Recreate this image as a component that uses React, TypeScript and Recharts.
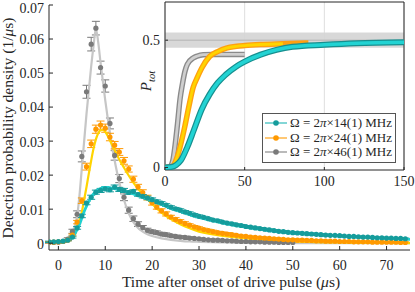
import { ComposedChart, Line, Scatter, ErrorBar, XAxis, YAxis, CartesianGrid, ReferenceArea, ReferenceLine, Legend } from "recharts"

const FONT = "'Liberation Serif', 'DejaVu Serif', serif"
const INK = "#262626"

// main plot: detection probability density vs time (us)
const dataT = [-2, -1, 0, 1, 2, 3, 4, 5, 6, 7, 8, 9, 10, 11, 12, 13, 14, 15, 16, 17, 18, 19, 20, 21, 22, 23, 24, 25, 26, 27, 28, 29, 30, 31, 32, 33, 34, 35, 36, 37, 38, 39, 40, 41, 42, 43, 44, 45, 46, 47, 48, 49, 50, 51, 52, 53, 54, 55, 56, 57, 58, 59, 60, 61, 62, 63, 64, 65, 66, 67, 68, 69, 70, 71, 72, 73, 74]

const grayData = [
  0.0002, 0.0002, 0.0003, 0.0005, 0.0012, 0.0035, 0.0085, 0.0255, 0.0445, 0.0585,
  0.0632, 0.0516, 0.0462, 0.0352, 0.0258, 0.019, 0.0135, 0.0097, 0.0072, 0.0056,
  0.0046, 0.0038, 0.0034, 0.0031, 0.0027, 0.0025, 0.0022, 0.002, 0.0018, 0.0017,
  0.0015, 0.0014, 0.0013, 0.0011, 0.001, 0.0009, 0.0009, 0.0008, 0.0007, 0.0007,
  0.0006, 0.0005, 0.0005, 0.0004, 0.0004, 0.0004, 0.0003, 0.0003, 0.0003, 0.0002,
  0.0002, 0.0002, 0.0002,
]
const grayErr = [
  0.0002, 0.0002, 0.0002, 0.0003, 0.0004, 0.0006, 0.001, 0.0016, 0.0019, 0.002,
  0.002, 0.0019, 0.0018, 0.0016, 0.0014, 0.0012, 0.001, 0.0009, 0.0008, 0.0007,
  0.0006, 0.0006, 0.0005, 0.0005, 0.0005, 0.0005, 0.0004, 0.0004, 0.0004, 0.0004,
  0.0004, 0.0003, 0.0003, 0.0003, 0.0003, 0.0003, 0.0003, 0.0003, 0.0003, 0.0003,
  0.0002, 0.0002, 0.0002, 0.0002, 0.0002, 0.0002, 0.0002, 0.0002, 0.0002, 0.0002,
  0.0002, 0.0002, 0.0002,
]

const orangeData = [
  0.0003, 0.0003, 0.0004, 0.0005, 0.0009, 0.0024, 0.0062, 0.0125, 0.0225, 0.0292,
  0.0335, 0.0347, 0.0338, 0.0312, 0.0288, 0.0268, 0.0242, 0.0218, 0.0188, 0.0165,
  0.0149, 0.0134, 0.0119, 0.0106, 0.0095, 0.0086, 0.0077, 0.007, 0.0064, 0.0058,
  0.0053, 0.0048, 0.0044, 0.004, 0.0037, 0.0034, 0.0031, 0.0029, 0.0027, 0.0025,
  0.0023, 0.0021, 0.002, 0.0018, 0.0017, 0.0016, 0.0015, 0.0014, 0.0013, 0.0012,
  0.0011, 0.001, 0.001, 0.0009, 0.0009, 0.0008, 0.0008, 0.0007, 0.0007, 0.0006,
  0.0006, 0.0006, 0.0005, 0.0005, 0.0005, 0.0004, 0.0004, 0.0004, 0.0004, 0.0003,
  0.0003, 0.0003, 0.0003, 0.0003, 0.0003, 0.0002, 0.0002,
]
const orangeErr = [
  0.0002, 0.0002, 0.0002, 0.0002, 0.0002, 0.0003, 0.0005, 0.0008, 0.001, 0.0011,
  0.0012, 0.0012, 0.0012, 0.0011, 0.0011, 0.001, 0.001, 0.0009, 0.0009, 0.0008,
  0.0008, 0.0007, 0.0007, 0.0006, 0.0006, 0.0006, 0.0005, 0.0005, 0.0005, 0.0005,
  0.0004, 0.0004, 0.0004, 0.0004, 0.0004, 0.0004, 0.0004, 0.0004, 0.0004, 0.0004,
  0.0003, 0.0003, 0.0003, 0.0003, 0.0003, 0.0003, 0.0003, 0.0003, 0.0003, 0.0003,
  0.0003, 0.0003, 0.0003, 0.0003, 0.0003, 0.0003, 0.0003, 0.0003, 0.0003, 0.0003,
  0.0002, 0.0002, 0.0002, 0.0002, 0.0002, 0.0002, 0.0002, 0.0002, 0.0002, 0.0002,
  0.0002, 0.0002, 0.0002, 0.0002, 0.0002, 0.0002, 0.0002,
]

const cyanData = [
  0.0004, 0.0004, 0.0005, 0.0006, 0.0009, 0.0018, 0.0045, 0.008, 0.0118, 0.0135,
  0.015, 0.0155, 0.016, 0.0157, 0.0165, 0.0158, 0.0155, 0.0149, 0.0152, 0.0143,
  0.0138, 0.0133, 0.0128, 0.0122, 0.0118, 0.0112, 0.0106, 0.0101, 0.0097, 0.0092,
  0.0088, 0.0083, 0.0079, 0.0076, 0.0072, 0.0068, 0.0066, 0.0062, 0.0059, 0.0057,
  0.0054, 0.0052, 0.0049, 0.0047, 0.0045, 0.0043, 0.0041, 0.0039, 0.0037, 0.0035,
  0.0034, 0.0032, 0.0031, 0.003, 0.0029, 0.0028, 0.0027, 0.0026, 0.0025, 0.0024,
  0.0023, 0.0023, 0.0022, 0.0021, 0.002, 0.002, 0.0019, 0.0018, 0.0018, 0.0017,
  0.0016, 0.0016, 0.0015, 0.0015, 0.0014, 0.0014, 0.0013,
]
const cyanErr = [
  0.0002, 0.0002, 0.0002, 0.0002, 0.0002, 0.0003, 0.0004, 0.0005, 0.0005, 0.0006,
  0.0006, 0.0006, 0.0006, 0.0006, 0.0006, 0.0006, 0.0006, 0.0005, 0.0005, 0.0005,
  0.0005, 0.0005, 0.0005, 0.0005, 0.0004, 0.0004, 0.0004, 0.0004, 0.0004, 0.0004,
  0.0004, 0.0004, 0.0004, 0.0003, 0.0003, 0.0003, 0.0003, 0.0003, 0.0003, 0.0003,
  0.0003, 0.0003, 0.0003, 0.0003, 0.0003, 0.0003, 0.0003, 0.0003, 0.0003, 0.0003,
  0.0003, 0.0003, 0.0003, 0.0003, 0.0003, 0.0003, 0.0003, 0.0003, 0.0003, 0.0003,
  0.0002, 0.0002, 0.0002, 0.0002, 0.0002, 0.0002, 0.0002, 0.0002, 0.0002, 0.0002,
  0.0002, 0.0002, 0.0002, 0.0002, 0.0002, 0.0002, 0.0002,
]

// fitted curves
const fitT = [0, 1, 2, 3, 3.5, 4, 4.5, 5, 5.5, 6, 6.5, 7, 7.5, 8, 8.5, 9, 9.5, 10, 10.5, 11, 11.5, 12, 13, 14, 15, 16, 17, 18, 19, 20, 22, 24, 26, 28, 30, 33, 36, 40, 45, 50, 55, 60, 65, 70, 75]
const grayFit = [
  0.0003, 0.0006, 0.0012, 0.003,
  0.005, 0.008, 0.014, 0.022, 0.03, 0.038, 0.045, 0.052, 0.058, 0.063, 0.059, 0.053, 0.0475, 0.042, 0.037, 0.0325, 0.028, 0.0243,
  0.0178, 0.0127, 0.0088, 0.0062, 0.0045, 0.0034, 0.0026, 0.0021,
  0.0014, 0.001, 0.0007, 0.0005, 0.0004,
  0.0003, 0.0002, 0.0001,
  0.0001, 0, 0, 0, 0, 0, 0,
]
const yellowFit = [
  0.0003, 0.0006, 0.001, 0.0022,
  0.0035, 0.005, 0.0068, 0.0092, 0.0128, 0.0165, 0.0205, 0.0243, 0.0278, 0.0305, 0.0323, 0.0332, 0.0333, 0.0327, 0.0316, 0.0302, 0.0288, 0.0274,
  0.0246, 0.0222, 0.0199, 0.0178, 0.016, 0.0144, 0.0129, 0.0115,
  0.009, 0.0071, 0.0056, 0.0044, 0.0034,
  0.0026, 0.002, 0.0014,
  0.0009, 0.0005, 0.0003, 0.0002, 0.0001, 0.0001, 0,
]
const cyanFit = [
  0.0003, 0.0006, 0.001, 0.0018,
  0.0028, 0.004, 0.0055, 0.0074, 0.0093, 0.0109, 0.0123, 0.0135, 0.0145, 0.0152, 0.0157, 0.0161, 0.0163, 0.0164, 0.0164, 0.0163, 0.0162, 0.016,
  0.0157, 0.0153, 0.0149, 0.0145, 0.014, 0.0135, 0.013, 0.0125,
  0.0114, 0.0103, 0.0093, 0.0084, 0.0076,
  0.0066, 0.0057, 0.0047,
  0.0037, 0.003, 0.0025, 0.0021, 0.0017, 0.0014, 0.0011,
]

const xTicks = [0, 10, 20, 30, 40, 50, 60, 70]
const yTicks = [0, 0.01, 0.02, 0.03, 0.04, 0.05, 0.06, 0.07]

// inset: total detection probability P_tot vs time
const cyanTotT = [0, 4, 7, 10, 14, 18, 23, 28, 33, 38, 45, 50, 60, 70, 80, 100, 120, 150]
const cyanTot = [0, 0.002, 0.01, 0.028, 0.08, 0.145, 0.228, 0.287, 0.332, 0.364, 0.398, 0.416, 0.443, 0.462, 0.474, 0.482, 0.488, 0.492]
const orangeTotT = [0, 3, 5, 7, 9, 12.5, 15, 17.7, 20, 23, 28, 33, 38.5, 45, 50, 60, 74, 90]
const orangeTot = [0, 0.001, 0.006, 0.03, 0.07, 0.163, 0.24, 0.315, 0.35, 0.39, 0.436, 0.455, 0.469, 0.476, 0.479, 0.483, 0.486, 0.489]
const grayTotT = [0, 3, 5, 6.3, 8, 9.4, 11, 12.5, 14, 17.7, 20, 24, 30, 40, 50]
const grayTot = [0, 0.003, 0.03, 0.085, 0.18, 0.267, 0.33, 0.377, 0.405, 0.43, 0.437, 0.443, 0.444, 0.444, 0.444]

const insetXTicks = [0, 50, 100, 150]
const insetYTicks = [0, 0.5]

const legendFreq = ["14", "24", "46"]
const legendLine = ["#2fbaba", "#ffa31a", "#8c8c8c"]
const legendDot = ["#159c9c", "#ff9900", "#7a7a7a"]

const rows = (ts: number[], vs: number[], es?: number[]) =>
  vs.map((v, i) => ({ t: ts[i], v, e: es ? es[i] : 0 }))

const grayPts = rows(dataT, grayData, grayErr)
const orangePts = rows(dataT, orangeData, orangeErr)
const cyanPts = rows(dataT, cyanData, cyanErr)

// layout constants (pixels)
const AX_X = 49
const AX_Y = 250
const IN_LEFT = 165
const IN_BOTTOM = 170

const dot = (color: string) => (p: any) => <circle cx={p.cx} cy={p.cy} r={2.6} fill={color} />

const MainXTick = (p: any) => (
  <g>
    <line x1={p.x} x2={p.x} y1={AX_Y} y2={AX_Y - 4} stroke={INK} />
    <text x={p.x} y={270} textAnchor="middle" fontFamily={FONT} fontSize={14} fill={INK}>{p.payload.value}</text>
  </g>
)

// top label sits at the page edge, nudge it down so it is not clipped
const MainYTick = (p: any) => (
  <g>
    <line x1={AX_X} x2={AX_X + 4} y1={p.y} y2={p.y} stroke={INK} />
    <text x={44} y={p.y} dy={p.y < 12 ? 7.5 : 5.4} textAnchor="end" fontFamily={FONT} fontSize={14} fill={INK}>
      {p.payload.value === 0 ? "0" : p.payload.value.toFixed(2)}
    </text>
  </g>
)

const XTitle = () => (
  <text x={231} y={287} textAnchor="middle" fontFamily={FONT} fontSize={15.5} fill={INK}>
    Time after onset of drive pulse (<tspan fontStyle="italic">μ</tspan>s)
  </text>
)

const YTitle = () => (
  <text x={13} y={128} transform="rotate(-90 13 128)" textAnchor="middle" fontFamily={FONT} fontSize={15.5} fill={INK}>
    Detection probability density (1/<tspan fontStyle="italic">μ</tspan>s)
  </text>
)

const InsetXTick = (p: any) => (
  <g>
    <line x1={p.x} x2={p.x} y1={IN_BOTTOM} y2={IN_BOTTOM - 3} stroke={INK} />
    <text x={p.x} y={186} textAnchor="middle" fontFamily={FONT} fontSize={14} fill={INK}>{p.payload.value}</text>
  </g>
)

const InsetYTick = (p: any) => (
  <g>
    <line x1={IN_LEFT} x2={IN_LEFT + 3} y1={p.y} y2={p.y} stroke={INK} />
    <text x={160} y={p.y} dy={5} textAnchor="end" fontFamily={FONT} fontSize={14} fill={INK}>{p.payload.value}</text>
  </g>
)

const PTitle = () => (
  <text x={151} y={81} transform="rotate(-90 151 81)" textAnchor="middle" fontFamily={FONT} fontSize={15} fill={INK}>
    <tspan fontStyle="italic">P</tspan>
    <tspan fontStyle="italic" fontSize={10.5} dy={4}>tot</tspan>
  </text>
)

const renderLegend = () => (
  <div style={{ border: "1px solid #555", background: "#fff", padding: "2px 3px 2px 1px", fontFamily: FONT, fontSize: 13, lineHeight: "14.5px", color: INK }}>
    {legendFreq.map((f, i) => (
      <div key={f} style={{ display: "flex", alignItems: "center", whiteSpace: "nowrap" }}>
        <svg width={24} height={12} style={{ display: "block" }}>
          <line x1={1} x2={23} y1={6} y2={6} stroke={legendLine[i]} strokeWidth={1.2} />
          <circle cx={12} cy={6} r={2.8} fill={legendDot[i]} />
        </svg>
        <span style={{ marginLeft: 2 }}>Ω = 2<i>π</i>×{f}(1) MHz</span>
      </div>
    ))}
  </div>
)

export default function App() {
  return (
    <div style={{ position: "absolute", left: 0, top: 0, width: 415, height: 292, background: "#fff" }}>
      <div style={{ position: "absolute", left: 0, top: 0 }}>
        <ComposedChart width={415} height={292} margin={{ top: 5, right: 5, bottom: 17, left: 9 }}>
          <XAxis type="number" dataKey="t" domain={[-2, 75]} ticks={xTicks} interval={0} allowDataOverflow height={25}
            tickLine={false} axisLine={{ stroke: INK }} tick={<MainXTick />} label={<XTitle />} />
          <YAxis type="number" domain={[-0.002, 0.07]} ticks={yTicks} interval={0} allowDataOverflow width={40}
            tickLine={false} axisLine={{ stroke: INK }} tick={<MainYTick />} label={<YTitle />} />
          <Scatter data={grayPts} dataKey="v" shape={dot("#7a7a7a")} isAnimationActive={false}>
            <ErrorBar dataKey="e" direction="y" width={4} stroke="#7a7a7a" strokeWidth={1} />
          </Scatter>
          <Line data={rows(fitT, grayFit)} dataKey="v" type="monotone" stroke="#c6c6c6" strokeWidth={2.2} dot={false} activeDot={false} isAnimationActive={false} />
          <Scatter data={orangePts} dataKey="v" shape={dot("#ff9900")} isAnimationActive={false}>
            <ErrorBar dataKey="e" direction="y" width={4} stroke="#ff9900" strokeWidth={1} />
          </Scatter>
          <Line data={rows(fitT, yellowFit)} dataKey="v" type="monotone" stroke="#ffd400" strokeWidth={2.2} dot={false} activeDot={false} isAnimationActive={false} />
          <Scatter data={cyanPts} dataKey="v" shape={dot("#159c9c")} isAnimationActive={false}>
            <ErrorBar dataKey="e" direction="y" width={4} stroke="#159c9c" strokeWidth={1} />
          </Scatter>
          <Line data={rows(fitT, cyanFit)} dataKey="v" type="monotone" stroke="#1fd0d0" strokeWidth={2.8} dot={false} activeDot={false} isAnimationActive={false} />
        </ComposedChart>
      </div>
      <div style={{ position: "absolute", left: 0, top: 0 }}>
        <ComposedChart width={415} height={292} margin={{ top: 2, right: 11, bottom: 102, left: 135 }}>
          <CartesianGrid horizontal={false} stroke="#dedede" fill="#fff" />
          <XAxis type="number" dataKey="t" domain={[0, 150]} ticks={insetXTicks} interval={0} allowDataOverflow height={20}
            tickLine={false} axisLine={false} tick={<InsetXTick />} />
          <YAxis type="number" domain={[-0.01, 0.65]} ticks={insetYTicks} interval={0} allowDataOverflow width={30}
            tickLine={false} axisLine={false} tick={<InsetYTick />} label={<PTitle />} />
          <ReferenceArea x1={0} x2={150} y1={0.47} y2={0.53} fill="#d4d4d4" fillOpacity={0.9} stroke="none" />
          <ReferenceLine y={0.5} stroke="#b4b4b4" strokeWidth={1} />
          <Line data={rows(grayTotT, grayTot)} dataKey="v" type="monotone" stroke="#8a8a8a" strokeWidth={5.5} dot={false} activeDot={false} isAnimationActive={false} />
          <Line data={rows(grayTotT, grayTot)} dataKey="v" type="monotone" stroke="#cfcfcf" strokeWidth={2.8} dot={false} activeDot={false} isAnimationActive={false} />
          <Line data={rows(orangeTotT, orangeTot)} dataKey="v" type="monotone" stroke="#ffa010" strokeWidth={5.5} dot={false} activeDot={false} isAnimationActive={false} />
          <Line data={rows(orangeTotT.slice(0, 17), orangeTot.slice(0, 17))} dataKey="v" type="monotone" stroke="#ffd400" strokeWidth={2.8} dot={false} activeDot={false} isAnimationActive={false} />
          <Line data={rows(cyanTotT, cyanTot)} dataKey="v" type="monotone" stroke="#168f8f" strokeWidth={6} dot={false} activeDot={false} isAnimationActive={false} />
          <Line data={rows(cyanTotT, cyanTot)} dataKey="v" type="monotone" stroke="#22d3d3" strokeWidth={3.6} dot={false} activeDot={false} isAnimationActive={false} />
          <ReferenceArea x1={0} x2={150} y1={-0.01} y2={0.65} fill="none" stroke={INK} strokeWidth={1} ifOverflow="visible" />
          <Legend layout="vertical" verticalAlign="middle" align="center" content={renderLegend}
            wrapperStyle={{ left: 262, top: 113, width: "auto", height: "auto" }} />
        </ComposedChart>
      </div>
    </div>
  )
}
